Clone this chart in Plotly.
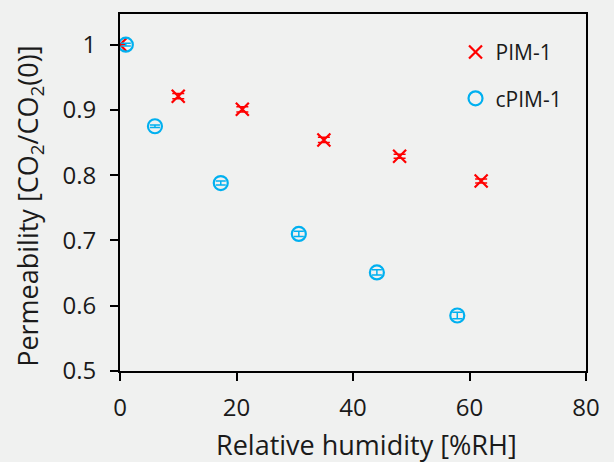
import plotly.graph_objects as go

# Relative humidity (%RH) and normalised CO2 permeability
rh_pim1 = [0, 10, 21, 35, 48, 62]
perm_pim1 = [1.0, 0.921, 0.901, 0.854, 0.829, 0.791]
err_pim1 = [0.0, 0.004, 0.004, 0.004, 0.003, 0.003]

rh_cpim1 = [1, 6, 17.3, 30.7, 44.1, 57.9]
perm_cpim1 = [1.0, 0.875, 0.788, 0.710, 0.651, 0.585]
err_cpim1 = [0.002, 0.002, 0.003, 0.004, 0.004, 0.005]

x_ticks = [0, 20, 40, 60, 80]
y_ticks = [0.5, 0.6, 0.7, 0.8, 0.9, 1.0]
y_tick_text = ["0.5", "0.6", "0.7", "0.8", "0.9", "1"]

x_title = "Relative humidity [%RH]"
y_title = "Permeability [CO<sub>2</sub>/CO<sub>2</sub>(0)]"

FONT = "Open Sans, sans-serif"
BG = "#f0f1f0"
RED = "#ff0000"
BLUE = "#00b0f0"
TEXT = "#1a1a1a"

fig = go.Figure()
fig.add_trace(go.Scatter(
    x=rh_pim1, y=perm_pim1, mode="markers", name="PIM-1", legendgroup="pim1",
    marker=dict(symbol="x-thin", size=13, line=dict(color=RED, width=2.2), color=RED),
    error_y=dict(type="data", array=err_pim1, color=RED, thickness=1.5, width=6),
))
fig.add_trace(go.Scatter(
    x=rh_cpim1, y=perm_cpim1, mode="markers", name="cPIM-1", legendgroup="cpim1",
    marker=dict(symbol="circle-open", size=14, line=dict(color=BLUE, width=2.2), color=BLUE),
    error_y=dict(type="data", array=err_cpim1, color=BLUE, thickness=1.5, width=5),
))

axis_common = dict(
    showgrid=False, zeroline=False, showline=True, linecolor="black", linewidth=2,
    mirror=True, ticks="outside", ticklen=8, tickwidth=2, tickcolor="black",
    tickfont=dict(family=FONT, size=24, color=TEXT),
)

fig.update_layout(
    width=614, height=462,
    margin=dict(l=120, r=28, t=12, b=91),
    paper_bgcolor=BG, plot_bgcolor=BG,
    font=dict(family=FONT, color=TEXT),
    xaxis=dict(range=[0, 80], tickvals=x_ticks, ticklabelstandoff=6, **axis_common),
    yaxis=dict(range=[0.5, 1.047], tickvals=y_ticks, ticktext=y_tick_text,
               ticklabelstandoff=9, **axis_common),
    legend=dict(
        x=0.72, y=0.95, xanchor="left", yanchor="top",
        bgcolor="rgba(0,0,0,0)", font=dict(family=FONT, size=21, color=TEXT),
        itemsizing="trace", tracegroupgap=16,
    ),
    showlegend=True,
    annotations=[
        dict(text=x_title, xref="paper", yref="paper", x=0.53, y=-0.206,
             xanchor="center", yanchor="middle", showarrow=False,
             font=dict(family=FONT, size=27, color=TEXT)),
        dict(text=y_title, xref="paper", yref="paper", x=-0.193, y=0.46,
             xanchor="center", yanchor="middle", textangle=-90, showarrow=False,
             font=dict(family=FONT, size=27, color=TEXT)),
    ],
)

fig.write_html("out.html")
